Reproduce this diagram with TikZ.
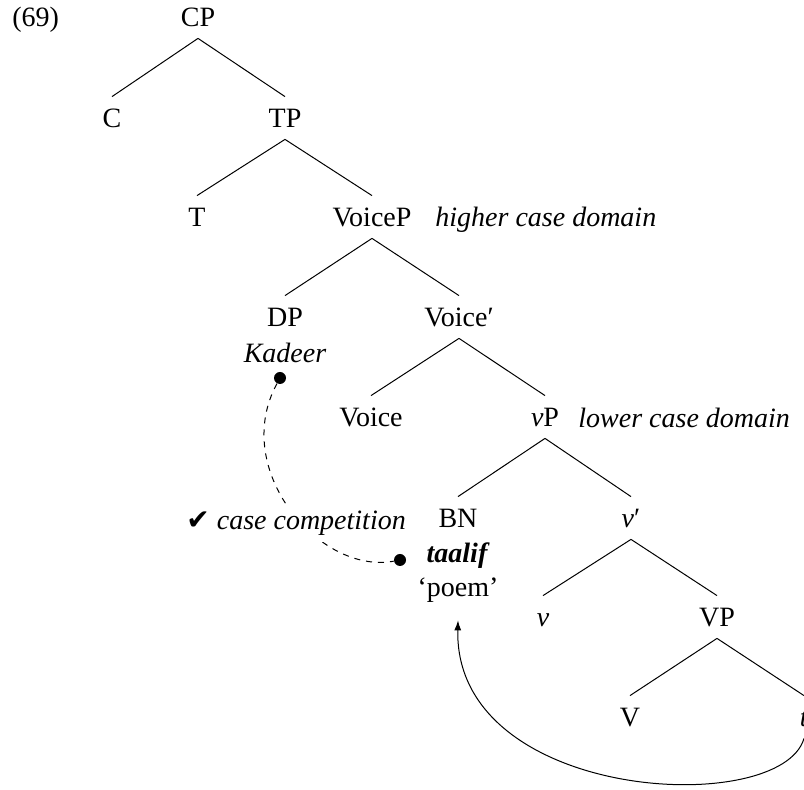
\documentclass[tikz,border=0pt]{standalone}
\usepackage{fontspec}
\setmainfont{Liberation Serif}
\newfontfamily\symfont{DejaVu Sans}
\usetikzlibrary{arrows.meta}
\begin{document}
\begin{tikzpicture}[x=0.5pt,y=-0.5pt,
  font=\fontsize{14}{16.5}\selectfont,
  tn/.style={anchor=base,inner sep=0pt,text height=15.5pt,text depth=5.5pt},
  lab/.style={anchor=base west,inner sep=0pt},
  plain/.style={anchor=base,inner sep=0pt},
  branch/.style={line width=0.5pt},
  dotnode/.style={circle,fill=black,inner sep=0pt,minimum size=6pt}]
\useasboundingbox (0,0) rectangle (804,790);
\node[lab] (ex) at (12,27) {(69)};
\node[tn] (CP) at (198,27) {CP};
\node[tn] (C) at (112,128) {C};
\node[tn] (TP) at (285,128) {TP};
\node[tn] (T) at (197,227) {T};
\node[tn] (VoiceP) at (372,227) {VoiceP};
\node[lab] (hcd) at (435,227) {\itshape higher case domain};
\node[tn] (DP) at (285,327) {DP};
\node[plain] (Kadeer) at (285,363) {\itshape Kadeer};
\node[tn] (Voicebar) at (459,327) {Voice′};
\node[tn] (Voice) at (371,427) {Voice};
\node[tn] (vP) at (545,427) {\textit{v}P};
\node[lab] (lcd) at (578,428) {\itshape lower case domain};
\node[tn] (BN) at (458,528) {BN};
\node[plain] (taalif) at (457,563) {\bfseries\itshape taalif};
\node[anchor=base,inner sep=0pt,text depth=11.5pt] (poem) at (458,597) {‘poem’};
\node[tn] (vbar) at (631,528) {\textit{v}′};
\node[tn] (v) at (543,627) {\textit{v}};
\node[tn] (VP) at (717,627) {VP};
\node[tn] (V) at (630,727) {V};
\node[tn] (t) at (804,727) {\textit{t}};
\foreach \p/\c in {CP/C,CP/TP,TP/T,TP/VoiceP,VoiceP/DP,VoiceP/Voicebar,Voicebar/Voice,Voicebar/vP,vP/BN,vP/vbar,vbar/v,vbar/VP,VP/V,VP/t}
  \draw[branch] (\p.south) -- (\c.north);
\node[dotnode] (kd) at (280,378) {};
\node[dotnode] (td) at (400,560) {};
\draw[branch,dashed] (kd) .. controls +(-50,92) and +(-80,15) .. (td);
\node[anchor=base west,fill=white,inner sep=3pt] (cc) at (180,530) {{\symfont ✔}\ \itshape case competition};
\draw[branch,-{Latex[length=5pt,width=3.5pt]}] (t.south) .. controls +(-23,80) and +(-4,182) .. (poem.south);
\end{tikzpicture}
\end{document}
